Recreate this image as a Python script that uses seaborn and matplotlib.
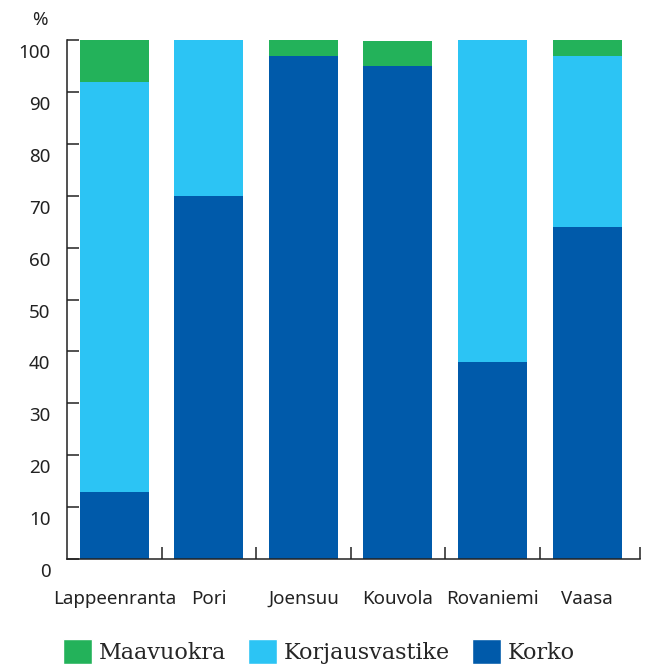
import matplotlib
matplotlib.use('Agg')
import matplotlib.pyplot as plt
import matplotlib.transforms as mtransforms
from matplotlib.patches import Patch
import pandas as pd
import seaborn as sns

categories = ['Lappeenranta', 'Pori', 'Joensuu', 'Kouvola', 'Rovaniemi', 'Vaasa']
korko = [13, 70, 97, 95, 38, 64]
korjausvastike = [79, 30, 0, 0, 62, 33]
maavuokra = [8, 0, 3, 4.8, 0, 3]

c_maa = '#23b25a'
c_korj = '#2cc4f4'
c_korko = '#005aaa'

df = pd.DataFrame({'Kaupunki': categories, 'Korko': korko,
                   'Korjausvastike': korjausvastike, 'Maavuokra': maavuokra})
df['lvl2'] = df['Korko'] + df['Korjausvastike']
df['lvl3'] = df['lvl2'] + df['Maavuokra']

sns.set_style('ticks')
plt.rcParams['font.family'] = ['Noto Sans', 'DejaVu Sans']

fig = plt.figure(figsize=(6.5, 6.64), dpi=100)
ax = fig.add_axes([67/650, 1 - 559/664, (640 - 67)/650, (559 - 40)/664])

# stacked bars drawn as cumulative totals
sns.barplot(data=df, x='Kaupunki', y='lvl3', color=c_maa, width=0.73,
            saturation=1, ax=ax, linewidth=0)
sns.barplot(data=df, x='Kaupunki', y='lvl2', color=c_korj, width=0.73,
            saturation=1, ax=ax, linewidth=0)
sns.barplot(data=df, x='Kaupunki', y='Korko', color=c_korko, width=0.73,
            saturation=1, ax=ax, linewidth=0)

xmax = len(categories) - 0.44
ax.set_xlim(-0.5, xmax)
ax.set_ylim(0, 100)
ax.set_xlabel('')
ax.set_ylabel('')

ax.spines['top'].set_visible(False)
ax.spines['right'].set_visible(False)
for s in ['left', 'bottom']:
    ax.spines[s].set_color('#222222')
    ax.spines[s].set_linewidth(1.1)

ax.set_yticks(range(0, 101, 10))
ax.tick_params(axis='y', direction='in', length=8.6, width=1.1, color='#222222',
               labelsize=13.5, labelcolor='#222222', pad=12)
offset = mtransforms.ScaledTranslation(0, -0.11, fig.dpi_scale_trans)
for lab in ax.get_yticklabels():
    lab.set_transform(lab.get_transform() + offset)

ax.set_xticks(range(len(categories)))
ax.set_xticklabels(categories)
ax.set_xticks([i + 0.5 for i in range(len(categories) - 1)] + [xmax], minor=True)
ax.tick_params(axis='x', which='major', length=0, labelsize=13.5,
               labelcolor='#222222', pad=22)
ax.tick_params(axis='x', which='minor', direction='in', length=8.6, width=1.1,
               color='#222222')

ax.text(-0.033, 1.039, '%', transform=ax.transAxes, ha='right', va='center',
        fontsize=13.5, color='#222222')

handles = [Patch(facecolor=c_maa, label='Maavuokra'),
           Patch(facecolor=c_korj, label='Korjausvastike'),
           Patch(facecolor=c_korko, label='Korko')]
fig.legend(handles=handles, loc='lower left', bbox_to_anchor=(63/650, 0.0),
           ncol=3, frameon=False, borderpad=0, borderaxespad=0,
           handlelength=1.3, handleheight=1.35, handletextpad=0.3,
           columnspacing=1.0,
           prop={'family': 'DejaVu Serif', 'size': 16})

plt.savefig('out.png', dpi=100)
